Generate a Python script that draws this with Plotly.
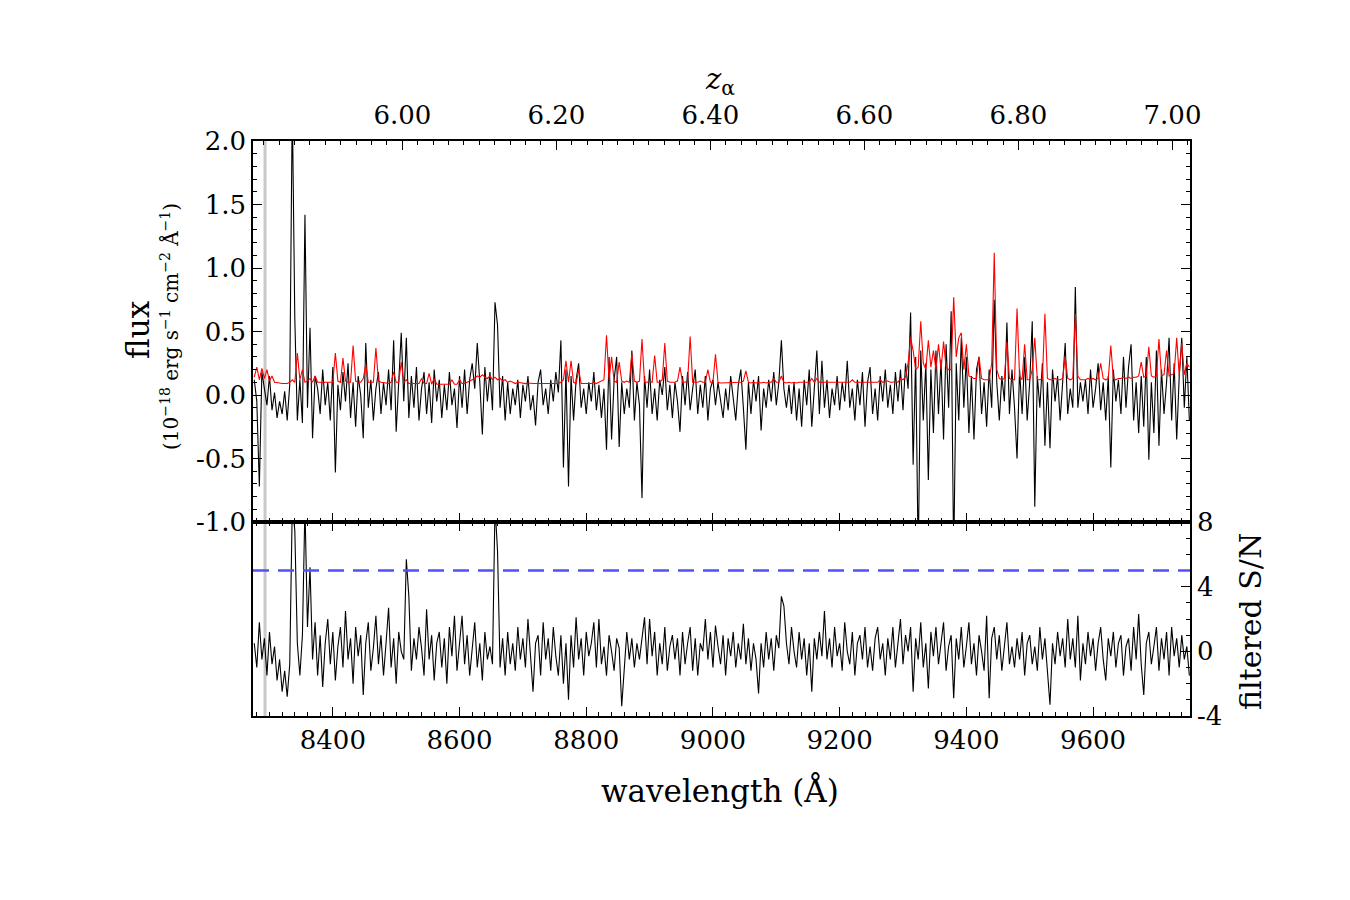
import plotly.graph_objects as go

# wavelength grid (Angstrom): 8276 .. 9752, 4 A step
LAM_START = 8276
LAM_STEP = 4
N_PTS = 370
wavelength = [LAM_START + LAM_STEP * i for i in range(N_PTS)]

# observed flux (1e-18 erg/s/cm2/A), black
flux = [
    0.12, -0.05, -0.72, 0.18, 0.05, -0.08, 0.15, -0.12, 0.02, -0.18, -0.05, -0.15, 0.03, -0.20, 0.08, 2.30, 0.60, -0.20, 0.12, -0.22, 1.42, -0.10, 0.53, -0.34, 0.15,
    0.05, -0.15, 0.20, -0.08, 0.10, -0.20, 0.22, -0.61, 0.08, -0.12, 0.18, -0.05, 0.25, -0.18, 0.10, -0.25, 0.15, 0.00, -0.34, 0.41, -0.10, 0.12, -0.20, 0.05, 0.18,
    -0.15, 0.10, -0.08, 0.20, -0.12, 0.43, -0.29, 0.12, 0.49, -0.05, 0.45, -0.18, 0.15, -0.10, 0.22, -0.20, 0.05, 0.18, -0.15, 0.10, -0.22, 0.20, -0.05, 0.12, -0.18,
    0.08, -0.12, 0.18, -0.08, 0.05, -0.26, 0.15, -0.10, 0.20, -0.15, 0.12, 0.25, 0.05, 0.41, 0.10, -0.31, 0.22, -0.05, 0.18, -0.12, 0.73, 0.55, -0.10, 0.15, -0.20,
    0.10, -0.15, 0.05, -0.08, 0.12, -0.18, 0.08, -0.05, 0.15, -0.12, 0.00, -0.24, 0.10, 0.20, -0.08, 0.05, -0.15, 0.12, -0.05, 0.18, 0.02, 0.43, -0.57, 0.20, -0.72,
    0.15, -0.20, 0.12, 0.25, -0.10, 0.05, -0.15, 0.10, -0.05, 0.18, -0.12, 0.08, -0.18, 0.05, -0.43, 0.30, -0.35, 0.12, 0.30, -0.41, 0.10, -0.15, 0.05, -0.10, 0.35,
    -0.20, 0.10, -0.08, -0.81, 0.15, -0.10, 0.20, -0.15, 0.05, -0.20, 0.12, 0.00, 0.22, -0.12, 0.08, -0.18, 0.10, -0.05, -0.29, 0.15, -0.08, 0.18, -0.12, 0.05, 0.20,
    -0.15, 0.08, -0.10, 0.15, -0.20, 0.05, 0.12, -0.08, 0.10, -0.05, -0.18, 0.05, -0.12, 0.15, -0.05, -0.20, 0.08, 0.20, -0.10, -0.43, 0.10, -0.15, 0.12, -0.05, 0.15,
    -0.28, 0.05, -0.10, 0.12, -0.05, 0.18, -0.08, 0.10, 0.43, 0.05, -0.10, 0.08, -0.15, 0.10, -0.20, 0.05, -0.25, 0.12, -0.08, 0.20, -0.25, 0.05, 0.35, -0.15, 0.27,
    -0.10, 0.12, -0.18, 0.05, -0.08, 0.15, -0.12, 0.10, -0.05, 0.27, -0.10, 0.05, -0.20, 0.12, -0.08, 0.18, -0.25, 0.10, 0.22, -0.15, 0.05, -0.20, 0.15, -0.05, 0.20,
    -0.10, 0.08, -0.15, 0.18, -0.05, 0.20, -0.12, 0.25, 0.05, 0.65, -0.55, 0.30, -1.30, 0.35, -0.20, 0.25, -0.67, 0.20, -0.30, 0.35, -0.15, 0.28, -0.35, 0.40, -0.10,
    0.66, -1.30, 0.25, -0.20, 0.45, -0.10, 0.30, -0.30, 0.15, -0.35, 0.20, 0.30, -0.15, 0.10, -0.25, 0.20, -0.10, 0.75, 0.10, -0.20, 0.15, -0.05, 0.57, -0.15, 0.20,
    -0.10, -0.50, 0.20, -0.15, 0.30, -0.20, 0.10, 0.58, -0.88, 0.15, -0.10, 0.25, -0.40, 0.10, -0.42, 0.20, -0.05, 0.15, -0.20, 0.10, 0.41, -0.15, 0.05, -0.10, 0.85,
    -0.10, 0.10, -0.05, 0.12, -0.15, 0.20, -0.10, 0.05, 0.25, -0.12, 0.10, -0.20, 0.15, -0.57, 0.20, -0.05, 0.12, -0.15, 0.30, -0.10, 0.22, 0.40, -0.20, 0.10, -0.30,
    0.15, -0.25, 0.30, -0.51, 0.10, -0.30, 0.35, -0.40, 0.20, -0.15, 0.10, 0.45, -0.20, 0.25, -0.35, 0.15, 0.45, -0.10, 0.30, -0.20,
]

# noise spectrum, red
noise = [
    0.14, 0.22, 0.12, 0.21, 0.13, 0.20, 0.11, 0.15, 0.10, 0.10, 0.095, 0.09, 0.09, 0.09, 0.10, 0.12, 0.10, 0.33, 0.12, 0.20, 0.10, 0.11, 0.13, 0.10, 0.15,
    0.10, 0.10, 0.095, 0.10, 0.10, 0.10, 0.10, 0.33, 0.11, 0.10, 0.29, 0.11, 0.10, 0.10, 0.39, 0.11, 0.10, 0.10, 0.13, 0.24, 0.10, 0.10, 0.10, 0.37, 0.11,
    0.10, 0.10, 0.095, 0.09, 0.10, 0.18, 0.10, 0.10, 0.26, 0.10, 0.12, 0.09, 0.09, 0.09, 0.09, 0.09, 0.13, 0.09, 0.09, 0.17, 0.085, 0.13, 0.085, 0.085, 0.085,
    0.085, 0.085, 0.085, 0.12, 0.085, 0.085, 0.12, 0.09, 0.09, 0.10, 0.11, 0.12, 0.13, 0.15, 0.14, 0.16, 0.14, 0.13, 0.15, 0.12, 0.14, 0.12, 0.13, 0.11, 0.12,
    0.10, 0.11, 0.10, 0.09, 0.10, 0.095, 0.09, 0.09, 0.095, 0.09, 0.09, 0.09, 0.09, 0.095, 0.09, 0.09, 0.09, 0.09, 0.09, 0.09, 0.09, 0.10, 0.12, 0.27, 0.10,
    0.27, 0.10, 0.09, 0.20, 0.09, 0.09, 0.09, 0.095, 0.09, 0.10, 0.09, 0.10, 0.11, 0.12, 0.47, 0.12, 0.30, 0.11, 0.10, 0.26, 0.11, 0.10, 0.11, 0.10, 0.33,
    0.11, 0.10, 0.11, 0.44, 0.10, 0.10, 0.11, 0.10, 0.31, 0.10, 0.10, 0.12, 0.41, 0.11, 0.10, 0.10, 0.10, 0.11, 0.22, 0.10, 0.10, 0.11, 0.46, 0.10, 0.10,
    0.10, 0.11, 0.10, 0.10, 0.20, 0.10, 0.10, 0.32, 0.10, 0.095, 0.095, 0.10, 0.10, 0.095, 0.10, 0.095, 0.10, 0.10, 0.11, 0.19, 0.10, 0.095, 0.10, 0.095, 0.10,
    0.095, 0.10, 0.095, 0.10, 0.10, 0.13, 0.10, 0.10, 0.15, 0.10, 0.095, 0.10, 0.095, 0.10, 0.095, 0.10, 0.10, 0.10, 0.095, 0.10, 0.13, 0.10, 0.13, 0.10, 0.10,
    0.10, 0.095, 0.10, 0.10, 0.095, 0.10, 0.10, 0.10, 0.10, 0.10, 0.10, 0.12, 0.10, 0.10, 0.10, 0.10, 0.10, 0.10, 0.10, 0.10, 0.10, 0.10, 0.12, 0.10, 0.11,
    0.11, 0.10, 0.10, 0.11, 0.10, 0.13, 0.12, 0.14, 0.25, 0.45, 0.35, 0.20, 0.22, 0.58, 0.25, 0.20, 0.43, 0.22, 0.35, 0.20, 0.40, 0.20, 0.42, 0.22, 0.20,
    0.20, 0.77, 0.30, 0.45, 0.49, 0.20, 0.40, 0.15, 0.14, 0.13, 0.13, 0.30, 0.13, 0.12, 0.12, 0.12, 0.25, 1.12, 0.20, 0.13, 0.12, 0.13, 0.42, 0.13, 0.12,
    0.12, 0.68, 0.15, 0.12, 0.40, 0.12, 0.12, 0.20, 0.45, 0.12, 0.12, 0.13, 0.64, 0.13, 0.12, 0.12, 0.13, 0.12, 0.12, 0.13, 0.30, 0.13, 0.12, 0.13, 0.64,
    0.15, 0.12, 0.12, 0.12, 0.13, 0.12, 0.13, 0.12, 0.13, 0.25, 0.13, 0.12, 0.13, 0.39, 0.13, 0.12, 0.13, 0.13, 0.14, 0.13, 0.14, 0.13, 0.14, 0.14, 0.15,
    0.26, 0.14, 0.15, 0.38, 0.15, 0.14, 0.15, 0.44, 0.15, 0.16, 0.35, 0.15, 0.16, 0.17, 0.45, 0.15, 0.41, 0.16, 0.25, 0.22,
]

# filtered S/N, bottom panel
snr = [
    0.5, -1.0, 1.8, -0.5, 0.8, -1.5, 1.2, -0.8, 0.3, -1.8, -0.5, -2.5, -1.2, -2.8, -0.8, 9.0, 7.5, 0.5, -1.5, 1.0, 9.0, 1.5, 5.2, -0.5, 1.8,
    -1.5, 1.0, -2.2, 0.5, 2.0, -0.8, 1.2, -1.8, 0.3, 1.5, -1.0, 2.5, -0.5, 0.8, -2.0, 1.5, -0.3, 1.0, -2.7, 0.5, 1.8, -1.2, 0.2, 2.2, -0.8,
    1.0, -1.5, 0.5, 2.7, -1.0, 0.8, -2.0, 1.2, 0.0, -0.5, 5.7, 3.4, -1.2, 0.8, -0.5, 1.5, 0.2, -1.5, 2.6, -0.5, 1.0, -1.8, 0.5, 1.2, -1.0,
    0.8, -2.0, 1.5, -0.3, 2.2, -1.2, 0.5, 2.2, -0.8, 1.0, -1.5, 0.3, 1.8, -1.0, 0.5, -1.8, 1.2, -0.5, 0.3, -0.8, 9.0, 6.2, -1.0, 0.8, -1.5,
    1.2, -0.8, 0.5, -1.2, 1.5, -0.5, 0.8, -1.0, 2.0, -0.5, -2.5, 0.5, 1.0, -1.5, 1.8, -0.5, 0.8, -1.2, 1.5, -0.3, -1.5, 1.0, -2.0, 0.5, -3.0,
    1.0, -1.0, 2.1, -0.5, 0.8, -1.5, 1.2, -0.3, 0.5, 1.8, -1.0, 2.0, -0.8, 0.3, -1.5, 1.0, 0.0, -1.2, 0.8, 0.2, -3.4, -0.8, 1.2, -0.5, 0.8,
    -1.0, 0.5, -0.5, 0.8, 2.1, -0.8, 2.0, -0.3, 1.2, -1.5, 0.5, -0.8, 1.5, -1.2, 0.3, 1.0, -0.5, 0.8, -1.5, 1.2, -0.8, 0.5, 1.5, -1.2, 0.8,
    -1.5, 0.5, 0.0, 2.0, -0.5, 1.2, -1.0, 1.6, 0.3, -0.8, 1.0, -1.5, 0.8, -0.3, 1.2, -1.0, 0.5, -0.5, 1.7, -0.8, 0.8, -1.2, 0.5, -0.5, -2.6,
    0.5, -1.0, 1.2, -0.5, 0.8, -1.2, 1.0, 0.2, 3.4, 2.8, 0.5, -0.8, 1.5, 0.0, -1.0, 1.2, -0.5, 0.8, -1.5, 0.5, -2.5, 0.8, -0.5, 1.2, -0.3,
    2.5, -0.5, 0.8, -1.0, 1.5, -0.3, 0.5, -1.2, 1.8, 0.0, -0.8, 1.2, -1.5, 0.5, 1.0, -0.5, 1.5, -1.0, 0.3, -1.2, 0.8, 1.5, -0.5, 0.5, -1.5,
    0.8, -0.5, 1.5, -1.0, 0.5, 2.0, -0.8, 1.0, 0.0, 1.5, -2.5, 0.8, -0.5, 1.8, -1.0, 0.5, -2.3, 1.2, -0.3, 1.5, -0.8, 0.5, 1.8, -1.2, 0.3,
    1.0, -2.9, 0.8, -0.5, 1.5, -1.0, 0.3, 1.8, -0.8, 0.5, -1.5, 1.0, 0.0, -1.2, 2.2, -2.9, 0.8, 1.5, -0.5, 1.0, -1.2, 0.5, 1.8, -0.8, 0.3,
    -1.0, 0.8, -0.5, 1.2, -1.5, 0.5, 1.0, -0.8, 0.3, -1.2, 1.5, -0.5, 0.8, -1.5, -3.3, 0.5, -0.8, 1.2, -0.3, 0.8, -1.0, 2.0, -0.5, 0.8, -1.0,
    2.2, -1.8, 0.5, -0.8, 1.2, -0.3, 0.8, -1.2, 0.5, 1.5, -0.5, -1.8, 0.8, -0.3, 1.2, -1.0, 0.5, 1.0, -1.5, 0.3, 0.8, -1.2, 1.5, -0.5, 2.3,
    -0.8, -2.7, 0.5, 1.2, -0.8, 0.3, 1.5, -1.2, 0.8, -0.5, 1.2, -1.5, 1.5, -0.3, 0.8, -1.0, 1.0, -0.5, 0.3, -1.5,
]

# axis settings / labels
LAM_RANGE = [8274, 9753]
LAM_TICKS = [8400, 8600, 8800, 9000, 9200, 9400, 9600]
FLUX_TICKS = [-1.0, -0.5, 0.0, 0.5, 1.0, 1.5, 2.0]
FLUX_LABELS = ["-1.0", "-0.5", "0.0", "0.5", "1.0", "1.5", "2.0"]
SNR_TICKS = [-4, 0, 4, 8]
SNR_LABELS = ["-4", "0", "4", "8"]
Z_TICKS = [6.0, 6.2, 6.4, 6.6, 6.8, 7.0]
Z_LABELS = ["6.00", "6.20", "6.40", "6.60", "6.80", "7.00"]
Z_MINOR = [round(5.82 + 0.02 * k, 2) for k in range(61)]
LYA = 1215.67
SNR_THRESHOLD = 5
MASK_WAVELENGTH = 8293

z_tickvals = [LYA * (1 + z) for z in Z_TICKS]
z_minorvals = [LYA * (1 + z) for z in Z_MINOR]

FONT = "DejaVu Serif"
TICKFONT = dict(family=FONT, size=26, color="black")

fig = go.Figure()
fig.add_trace(go.Scatter(x=wavelength, y=flux, mode="lines", line=dict(color="black", width=1.1),
                         xaxis="x2", yaxis="y2", showlegend=False, hoverinfo="skip"))
fig.add_trace(go.Scatter(x=wavelength, y=noise, mode="lines", line=dict(color="#ff0000", width=1.1),
                         xaxis="x2", yaxis="y2", showlegend=False, hoverinfo="skip"))
fig.add_trace(go.Scatter(x=wavelength, y=snr, mode="lines", line=dict(color="black", width=1.1),
                         xaxis="x", yaxis="y", showlegend=False, hoverinfo="skip"))
# invisible trace so the top (redshift) axis is rendered
fig.add_trace(go.Scatter(x=[LAM_RANGE[0]], y=[0], mode="markers", marker=dict(opacity=0),
                         xaxis="x3", yaxis="y2", showlegend=False, hoverinfo="skip"))

split = 194 / 575

common_x = dict(range=LAM_RANGE, showgrid=False, zeroline=False, showline=True,
                linecolor="black", linewidth=1.5, ticks="inside", ticklen=9, tickwidth=1.2,
                tickcolor="black", tickfont=TICKFONT)

fig.update_layout(
    width=1350, height=900,
    margin=dict(l=253, r=160, t=141, b=184),
    plot_bgcolor="white", paper_bgcolor="white",
    xaxis=dict(**common_x, domain=[0, 1], anchor="y", tickmode="array", tickvals=LAM_TICKS,
               ticktext=[str(v) for v in LAM_TICKS], mirror="ticks",
               minor=dict(tick0=8400, dtick=20, ticks="inside", ticklen=4, tickcolor="black", tickwidth=1)),
    yaxis=dict(domain=[0, split], anchor="x", side="right", range=[-4, 8], showgrid=False,
               zeroline=False, showline=True, linecolor="black", linewidth=1.5, mirror=True,
               ticks="inside", ticklen=9, tickwidth=1.2, tickcolor="black", tickmode="array",
               tickvals=SNR_TICKS, ticktext=SNR_LABELS, tickfont=TICKFONT,
               minor=dict(dtick=1, tick0=0, ticks="inside", ticklen=4, tickcolor="black", tickwidth=1)),
    xaxis2=dict(**common_x, domain=[0, 1], anchor="y2", matches="x", showticklabels=False,
                tickmode="array", tickvals=LAM_TICKS, mirror=True,
                minor=dict(tick0=8400, dtick=20, ticks="inside", ticklen=4, tickcolor="black", tickwidth=1)),
    yaxis2=dict(domain=[split, 1], anchor="x2", range=[-1, 2], showgrid=False, zeroline=False,
                showline=True, linecolor="black", linewidth=1.5, mirror="ticks", ticks="inside",
                ticklen=9, tickwidth=1.2, tickcolor="black", tickmode="array", tickvals=FLUX_TICKS,
                ticktext=FLUX_LABELS, tickfont=TICKFONT,
                minor=dict(dtick=0.1, tick0=0, ticks="inside", ticklen=4, tickcolor="black", tickwidth=1)),
    xaxis3=dict(**common_x, overlaying="x2", side="top", anchor="y2", tickmode="array",
                tickvals=z_tickvals, ticktext=Z_LABELS, ticklabelstandoff=5,
                minor=dict(tickvals=z_minorvals, ticks="inside", ticklen=4, tickcolor="black", tickwidth=1)),
    shapes=[
        dict(type="line", xref="x", yref="paper", x0=MASK_WAVELENGTH, x1=MASK_WAVELENGTH, y0=0, y1=1,
             line=dict(color="#c8c8c8", width=3), layer="below"),
        dict(type="line", xref="x domain", yref="y", x0=0, x1=1, y0=SNR_THRESHOLD, y1=SNR_THRESHOLD,
             line=dict(color="#5050ff", width=2.5, dash="16px,9px"), layer="above"),
    ],
    annotations=[
        dict(text="wavelength (Å)", xref="paper", yref="paper", x=0.4984, y=(716 - 790) / 575,
             showarrow=False, font=dict(family=FONT, size=31, color="black"), xanchor="center", yanchor="middle"),
        dict(text="<i>z</i><sub>α</sub>", xref="paper", yref="paper", x=(720 - 253) / 937, y=(716 - 81) / 575,
             showarrow=False, font=dict(family=FONT, size=29, color="black"), xanchor="center", yanchor="middle"),
        dict(text="flux", xref="paper", yref="paper", x=(138 - 253) / 937, y=(716 - 330) / 575,
             showarrow=False, textangle=-90, font=dict(family=FONT, size=31, color="black"),
             xanchor="center", yanchor="middle"),
        dict(text="(10<sup>−18</sup> erg s<sup>−1</sup> cm<sup>−2</sup> Å<sup>−1</sup>)", xref="paper", yref="paper",
             x=(170 - 253) / 937, y=(716 - 327) / 575, showarrow=False, textangle=-90,
             font=dict(family=FONT, size=20, color="black"), xanchor="center", yanchor="middle"),
        dict(text="filtered S/N", xref="paper", yref="paper", x=(1250 - 253) / 937, y=(716 - 622) / 575,
             showarrow=False, textangle=-90, font=dict(family=FONT, size=30, color="black"),
             xanchor="center", yanchor="middle"),
    ],
)

fig.write_html("out.html")
